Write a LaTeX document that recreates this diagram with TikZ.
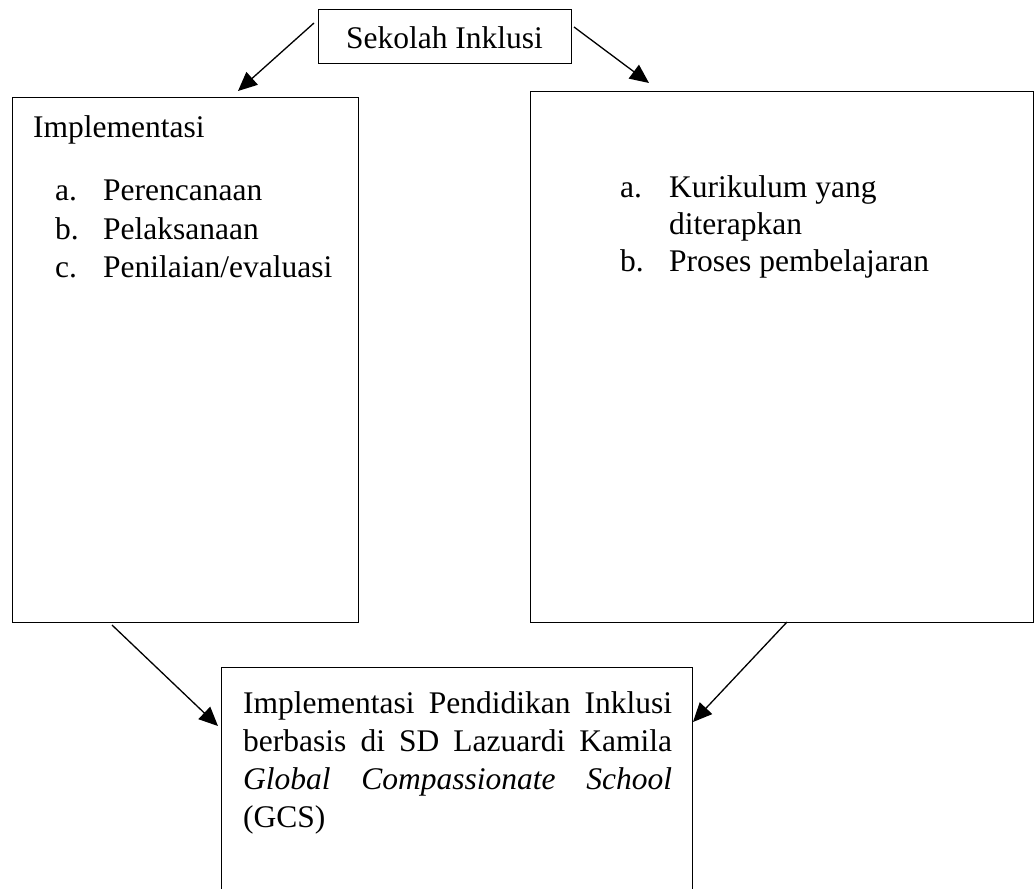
\documentclass[tikz,border=0pt]{standalone}
\usepackage{fontspec}
\setmainfont{Liberation Serif}
\usetikzlibrary{arrows.meta}
\begin{document}
\begin{tikzpicture}[x=1pt,y=-1pt,
  box/.style={draw, rectangle, line width=1.1pt, inner sep=0pt, anchor=north west},
  txt/.style={anchor=base west, inner sep=0pt, font=\fontsize{31.5}{38}\selectfont},
  arr/.style={-{Triangle[length=19pt,width=17pt]}, line width=1.3pt}]
\clip (0,0) rectangle (1035,888);
% boxes
\node[box, minimum width=253pt, minimum height=54pt] (top) at (318,9) {};
\node[box, minimum width=346pt, minimum height=525pt] (left) at (12,97) {};
\node[box, minimum width=503pt, minimum height=531pt] (right) at (530,91) {};
\node[box, minimum width=471pt, minimum height=260pt] (bottom) at (221,667) {};
% top text
\node[txt, anchor=base] (ttop) at (444.5,49) {Sekolah Inklusi};
% left text
\node[txt] (l0) at (33,137) {Implementasi};
\node[txt] (la) at (55,200) {a.};
\node[txt] (lat) at (103,200) {Perencanaan};
\node[txt] (lb) at (55,239) {b.};
\node[txt] (lbt) at (103,239) {Pelaksanaan};
\node[txt] (lc) at (55,277) {c.};
\node[txt] (lct) at (103,277) {Penilaian/evaluasi};
% right text
\node[txt] (ra) at (620,197) {a.};
\node[txt] (rat) at (669,197) {Kurikulum yang};
\node[txt] (rat2) at (669,234) {diterapkan};
\node[txt] (rb) at (620,271) {b.};
\node[txt] (rbt) at (669,271) {Proses pembelajaran};
% bottom text
\node[txt] (b1) at (243,713) {\makebox[429pt][s]{Implementasi Pendidikan Inklusi}};
\node[txt] (b2) at (243,751) {\makebox[429pt][s]{berbasis di SD Lazuardi Kamila}};
\node[txt] (b3) at (243,789) {\makebox[429pt][s]{\itshape Global Compassionate School}};
\node[txt] (b4) at (243,827) {(GCS)};
% arrow endpoints
\coordinate (a1s) at (314,23);
\coordinate (a1e) at (238,91);
\coordinate (a2s) at (574,27);
\coordinate (a2e) at (649,83);
\coordinate (a3s) at (112,625);
\coordinate (a3e) at (218,726);
\coordinate (a4s) at (787,622);
\coordinate (a4e) at (693,722);
\draw[arr] (a1s) -- (a1e);
\draw[arr] (a2s) -- (a2e);
\draw[arr] (a3s) -- (a3e);
\draw[arr] (a4s) -- (a4e);
\end{tikzpicture}
\end{document}
